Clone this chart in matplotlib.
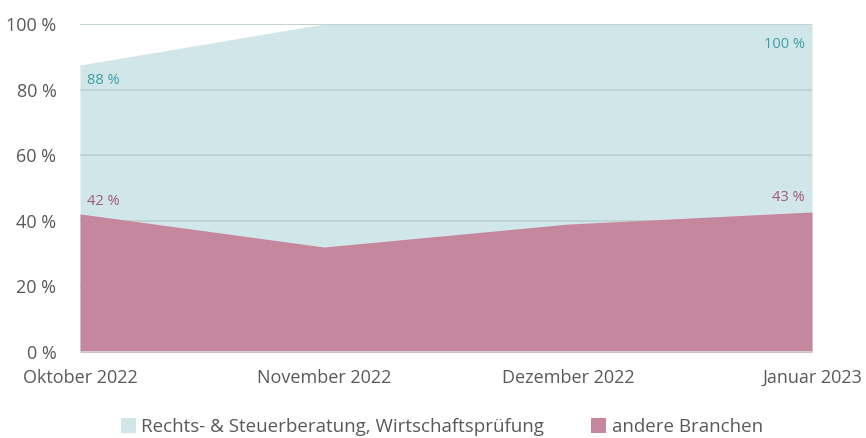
import numpy as np
import matplotlib.pyplot as plt

months = ['Oktober 2022', 'November 2022', 'Dezember 2022', 'Januar 2023']
rechts = [87.5, 100, 100, 100]
andere = [42.1, 32.0, 39.0, 42.7]
rechts_label = 'Rechts- & Steuerberatung, Wirtschaftsprüfung'
andere_label = 'andere Branchen'

teal = '#d1e6e8'
pink = '#c5879e'
teal_txt = '#3d9ea4'
pink_txt = '#a05a78'
grey_txt = '#595959'

plt.rcParams['font.family'] = ['Open Sans', 'DejaVu Sans']

fig = plt.figure(figsize=(8.66, 4.38), dpi=100)
ax = fig.add_axes([80 / 866, 1 - 352 / 438, 732 / 866, 328 / 438])

x = np.arange(len(months))
ax.fill_between(x, 0, rechts, color=teal, lw=0, zorder=1, label=rechts_label)
for yv in [20, 40, 60, 80, 100]:
    ax.axhline(yv, color='#bcd0d2', lw=1.2, zorder=1.5)
ax.axhline(100, color='#e3e3e3', lw=1.2, zorder=1.4)
ax.fill_between(x, 0, andere, color=pink, lw=0, zorder=2, label=andere_label)
ax.axhline(0, color='#d9d9d9', lw=1.2, zorder=3)

ax.set_xlim(0, len(months) - 1)
ax.set_ylim(0, 100)
ax.set_yticks(range(0, 101, 20))
ax.set_yticklabels([f'{v} %' for v in range(0, 101, 20)], color=grey_txt, fontsize=13)
ax.set_xticks(x)
ax.set_xticklabels(months, color=grey_txt, fontsize=13)
ax.tick_params(axis='y', length=0, pad=17)
ax.tick_params(axis='x', length=0, pad=12)
for s in ax.spines.values():
    s.set_visible(False)

# data labels at first and last point
ax.text(x[0] + 0.03, rechts[0] - 2.5, f'{round(rechts[0])} %', color=teal_txt,
        fontsize=10.5, va='top', ha='left', zorder=4)
ax.text(x[-1] - 0.03, rechts[-1] - 4, f'{round(rechts[-1])} %', color=teal_txt,
        fontsize=10.5, va='top', ha='right', zorder=4)
ax.text(x[0] + 0.03, andere[0] + 1.5, f'{round(andere[0])} %', color=pink_txt,
        fontsize=10.5, va='bottom', ha='left', zorder=4)
ax.text(x[-1] - 0.03, andere[-1] + 2, f'{round(andere[-1])} %', color=pink_txt,
        fontsize=10.5, va='bottom', ha='right', zorder=4)

leg = fig.legend(loc='center', bbox_to_anchor=(0.51, 1 - 427 / 438),
                 ncol=2, frameon=False, fontsize=13.5, handlelength=0.8, handleheight=0.8,
                 columnspacing=2.5, handletextpad=0.3)
for t in leg.get_texts():
    t.set_color(grey_txt)

fig.savefig('out.png', dpi=100)
